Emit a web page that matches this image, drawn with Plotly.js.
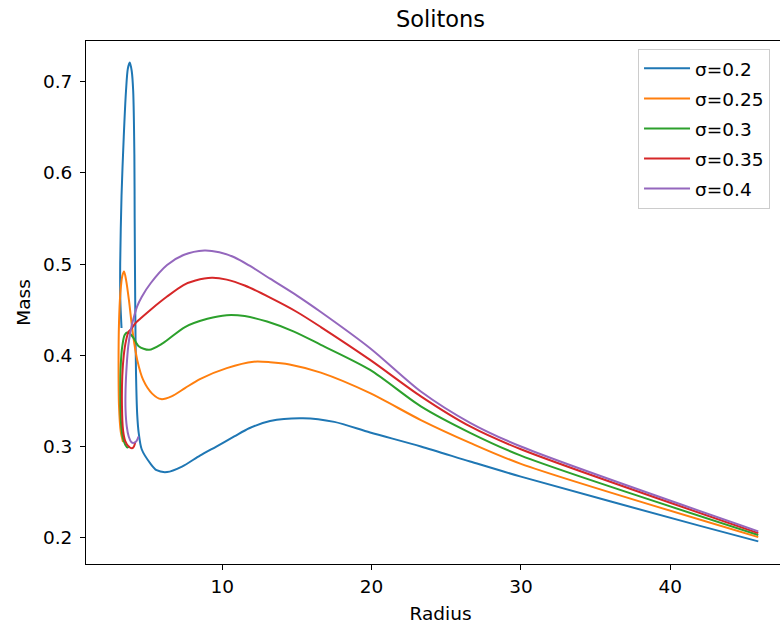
<!DOCTYPE html>
<html>
<head>
<meta charset="utf-8">
<script src="https://cdn.plot.ly/plotly-3.0.1.min.js"></script>
<style>
html,body{margin:0;padding:0;background:#fff;overflow:hidden;}
#chart{width:810px;height:628px;}
</style>
</head>
<body>
<div id="chart"></div>
<script>
// Series names
const seriesNames = ["σ=0.2", "σ=0.25", "σ=0.3", "σ=0.35", "σ=0.4"];
const seriesColors = ["#1f77b4", "#ff7f0e", "#2ca02c", "#d62728", "#9467bd"];

// σ=0.2
const radius_02 = [45.9, 42.0, 30.0, 26.6, 23.3, 19.9, 17.5, 15.4, 13.2, 11.8, 10.8, 9.6, 8.5, 7.3, 6.3, 5.6, 5.2, 4.6, 4.4, 4.3, 4.22, 4.17, 4.13, 4.11, 4.03, 3.93, 3.8, 3.67, 3.55, 3.4, 3.25, 3.16, 3.17, 3.25];
const mass_02   = [0.196, 0.213, 0.267, 0.2836, 0.300, 0.3154, 0.327, 0.331, 0.328, 0.320, 0.311, 0.300, 0.290, 0.278, 0.272, 0.274, 0.281, 0.297, 0.315, 0.335, 0.38, 0.45, 0.55, 0.62, 0.69, 0.712, 0.721, 0.714, 0.69, 0.64, 0.575, 0.50, 0.46, 0.43];

// σ=0.25
const radius_025 = [45.9, 30.0, 26.6, 23.3, 19.9, 16.6, 14.5, 13.2, 12.1, 10.3, 8.5, 7.5, 6.6, 5.9, 5.3, 4.7, 4.3, 4.0, 3.75, 3.55, 3.42, 3.3, 3.17, 3.08, 3.05, 3.08, 3.2, 3.35];
const mass_025   = [0.2007, 0.281, 0.304, 0.329, 0.3585, 0.381, 0.390, 0.3925, 0.393, 0.386, 0.374, 0.364, 0.355, 0.352, 0.358, 0.373, 0.395, 0.425, 0.46, 0.483, 0.492, 0.487, 0.468, 0.435, 0.39, 0.345, 0.316, 0.305];

// σ=0.3
const radius_03 = [45.9, 30.0, 26.6, 23.3, 19.9, 16.6, 14.8, 13.0, 11.5, 10.3, 9.0, 7.5, 6.0, 5.1, 4.4, 4.05, 3.8, 3.62, 3.45, 3.3, 3.2, 3.17, 3.22, 3.35, 3.5, 3.65, 3.8];
const mass_03   = [0.203, 0.290, 0.315, 0.344, 0.384, 0.4115, 0.426, 0.437, 0.443, 0.444, 0.440, 0.431, 0.413, 0.406, 0.410, 0.419, 0.424, 0.425, 0.422, 0.41, 0.39, 0.355, 0.325, 0.309, 0.302, 0.299, 0.300];

// σ=0.35
const radius_035 = [45.9, 30.0, 26.6, 23.3, 19.9, 16.6, 15.0, 13.2, 11.5, 10.3, 9.3, 8.2, 7.4, 6.3, 5.2, 4.5, 4.17, 3.9, 3.73, 3.55, 3.4, 3.3, 3.28, 3.35, 3.5, 3.73, 3.95, 4.08, 4.17];
const mass_035   = [0.205, 0.297, 0.322, 0.355, 0.395, 0.431, 0.4475, 0.4632, 0.4765, 0.4830, 0.485, 0.482, 0.477, 0.4644, 0.450, 0.440, 0.435, 0.429, 0.426, 0.416, 0.40, 0.377, 0.344, 0.318, 0.306, 0.300, 0.298, 0.300, 0.305];

// σ=0.4
const radius_04 = [45.9, 30.0, 26.6, 23.3, 19.9, 16.6, 15.0, 13.2, 11.8, 10.8, 9.8, 8.8, 7.4, 6.3, 5.2, 4.6, 4.29, 4.0, 3.84, 3.7, 3.6, 3.52, 3.52, 3.6, 3.73, 3.9, 4.06, 4.25, 4.39];
const mass_04   = [0.207, 0.300, 0.326, 0.3603, 0.4078, 0.4475, 0.4655, 0.484, 0.4985, 0.5075, 0.5130, 0.515, 0.510, 0.499, 0.479, 0.464, 0.4534, 0.437, 0.425, 0.41, 0.39, 0.362, 0.340, 0.322, 0.311, 0.305, 0.304, 0.306, 0.311];

const xTicks = [10, 20, 30, 40];
const yTicks = [0.2, 0.3, 0.4, 0.5, 0.6, 0.7];

const xs = [radius_02, radius_025, radius_03, radius_035, radius_04];
const ys = [mass_02, mass_025, mass_03, mass_035, mass_04];

const font = "DejaVu Sans, sans-serif";
const fs = 18.5;

const traces = seriesNames.map((n, i) => ({
  type: "scatter",
  mode: "lines",
  name: n,
  legendgroup: "g" + i,
  x: xs[i],
  y: ys[i],
  line: {color: seriesColors[i], width: 2, shape: "spline", smoothing: 0.8}
}));

const axisCommon = {
  showgrid: false,
  zeroline: false,
  showline: true,
  mirror: true,
  linecolor: "#000",
  linewidth: 1,
  ticks: "outside",
  ticklen: 5,
  tickwidth: 1,
  tickcolor: "#000",
  tickfont: {family: font, size: fs, color: "#000"}
};

const layout = {
  width: 810,
  height: 628,
  margin: {l: 86, r: 15, t: 41, b: 64},
  paper_bgcolor: "#fff",
  plot_bgcolor: "#fff",
  font: {family: font, color: "#000"},
  title: {
    text: "Solitons",
    font: {family: font, size: 22.5, color: "#000"},
    x: 0.5, xref: "paper", xanchor: "center",
    y: 1 - 19/628, yref: "container", yanchor: "middle"
  },
  xaxis: Object.assign({}, axisCommon, {
    range: [0.87, 48.36],
    tickvals: xTicks,
    ticktext: xTicks.map(String),
    ticklabelstandoff: 1,
    title: {text: "Radius", font: {family: font, size: fs, color: "#000"}, standoff: 10}
  }),
  yaxis: Object.assign({}, axisCommon, {
    range: [0.1712, 0.7446],
    tickvals: yTicks,
    ticktext: yTicks.map(v => v.toFixed(1)),
    ticklabelstandoff: 4,
    title: {text: "Mass", font: {family: font, size: fs, color: "#000"}, standoff: 7}
  }),
  showlegend: true,
  legend: {
    x: 0.7786, y: 0.985, xanchor: "left", yanchor: "top",
    bgcolor: "#fff",
    bordercolor: "#cccccc",
    borderwidth: 1,
    font: {family: font, size: fs, color: "#000"},
    traceorder: "grouped",
    tracegroupgap: 3,
    itemwidth: 46
  }
};

Plotly.newPlot("chart", traces, layout, {displayModeBar: false, staticPlot: true});
</script>
</body>
</html>
